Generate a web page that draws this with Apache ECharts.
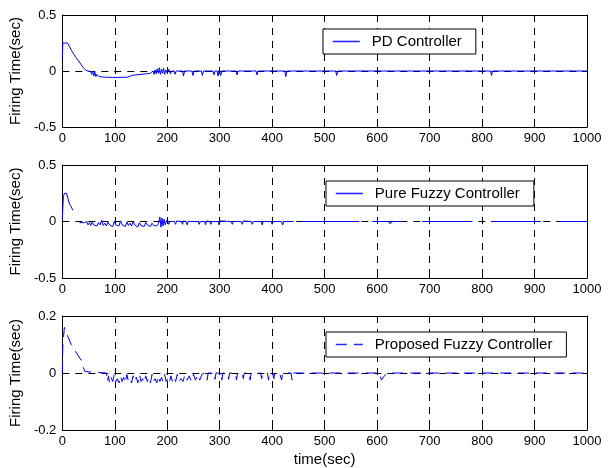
<!DOCTYPE html>
<html>
<head>
<meta charset="utf-8">
<script src="https://cdn.jsdelivr.net/npm/echarts@6/dist/echarts.min.js"></script>
<style>
  body { margin: 0; background: #fff; }
  #chart { width: 608px; height: 468px; }
</style>
</head>
<body>
<div id="chart"></div>
<script>
// 数据：时间(sec) 与 Firing Time(sec)
const seriesNames = ['PD Controller', 'Pure Fuzzy Controller', 'Proposed Fuzzy Controller'];
const xTicks = [0, 1000, 100];          // min, max, interval
const yRanges = [[-0.5, 0.5, 0.5], [-0.5, 0.5, 0.5], [-0.2, 0.2, 0.2]];

const pdData = [
    [0, 0.11], [1, 0.25], [10, 0.25], [18, 0.18], [26, 0.12], [34, 0.07], [40, 0.03], [45, 0.005],
    [50, 0], [54, -0.005], [56, -0.03], [58, 0], [60, -0.045], [62, -0.01], [64, -0.05], [66, -0.03],
    [70, -0.05], [80, -0.055], [95, -0.057], [110, -0.057], [125, -0.055], [132, -0.04], [140, -0.035],
    [150, -0.03], [160, -0.025], [168, -0.02], [171, -0.035], [173, 0], [175, -0.03], [177, 0.01],
    [179, -0.025], [181, 0.02], [183, -0.02], [185, 0.03], [187, -0.03], [189, 0.015], [191, -0.02],
    [193, 0.025], [195, -0.03], [197, 0.01], [200, -0.02], [203, 0.015], [206, -0.025], [209, 0],
    [213, 0], [215, -0.03], [217, 0], [229, 0], [231, -0.045], [233, 0], [247, 0], [249, -0.04],
    [251, 0], [265, 0], [267, -0.04], [269, 0], [287, 0], [289, -0.035], [291, 0], [295, 0],
    [297, -0.045], [299, 0.01], [302, -0.04], [304, 0], [331, 0], [333, -0.035], [335, 0],
    [369, 0], [371, -0.035], [373, 0], [424, 0], [426, -0.05], [428, 0], [521, 0], [523, -0.04],
    [525, 0], [816, 0], [818, -0.04], [820, 0], [1000, 0]
];

// '-' 表示曲线断开
const pureFuzzyData = [
    [0, 0.02], [2, 0.22], [4, 0.25], [8, 0.25], [11, 0.2], [14, 0.15], [17, 0.13], [20, 0.1], [21, '-'],
    [33, -0.01], [42, -0.01], [45, -0.025], [47, 0], [49, -0.03], [52, -0.01], [54, -0.035], [57, -0.005],
    [60, -0.03], [63, -0.015], [66, -0.04], [69, -0.01], [72, -0.03], [75, 0.01], [78, -0.035],
    [81, -0.015], [84, -0.04], [87, -0.005], [90, -0.03], [93, -0.02], [96, -0.045], [99, 0],
    [102, -0.03], [105, -0.015], [108, -0.04], [111, 0.005], [114, -0.03], [117, -0.02], [120, -0.045],
    [123, -0.005], [126, -0.035], [129, -0.015], [132, -0.04], [135, 0], [138, -0.03], [141, -0.02],
    [144, -0.05], [147, -0.01], [150, -0.035], [153, -0.02], [156, -0.045], [159, -0.01], [162, -0.03],
    [165, -0.02], [168, -0.045], [171, -0.015], [174, -0.035], [177, -0.02], [180, -0.04], [183, -0.02],
    [186, 0.04], [188, -0.05], [190, 0.03], [192, -0.04], [194, 0.02], [196, -0.03], [199, 0.01],
    [201, 0], [203, -0.025], [205, 0], [214, 0], [216, -0.025], [218, 0.005], [227, 0], [229, -0.025],
    [231, 0.005], [236, 0], [238, -0.03], [240, 0], [259, 0], [261, -0.025], [263, 0], [271, 0],
    [273, -0.03], [275, 0.005], [281, 0], [283, -0.025], [285, 0], [297, 0], [299, -0.03], [301, 0.005],
    [322, 0], [324, -0.025], [326, 0], [341, 0], [343, -0.025], [345, 0.005], [360, 0], [362, -0.025],
    [364, 0], [379, 0], [381, -0.03], [383, 0], [398, 0], [400, -0.025], [402, 0], [418, 0],
    [420, -0.03], [422, 0], [441, 0], [442, '-'], [456, 0], [566, 0], [567, '-'], [591, 0], [622, 0],
    [624, -0.02], [627, -0.015], [630, 0], [648, 0], [649, '-'], [686, 0], [781, 0], [782, '-'],
    [817, 0], [912, 0], [913, '-'], [947, 0], [1000, 0]
];

const proposedData = [
    [0, 0], [1, 0.1], [4, 0.16], [8, 0.14], [17, 0.1], [27, 0.07], [36, 0.045], [40, 0.02], [43, 0.005],
    [46, 0], [84, 0], [86, -0.03], [88, -0.01], [90, -0.035], [93, -0.015], [96, -0.03], [99, -0.005],
    [102, -0.03], [105, -0.02], [108, -0.035], [111, -0.01], [114, -0.03], [117, -0.015], [120, -0.035],
    [123, -0.005], [126, -0.03], [129, -0.02], [132, -0.035], [135, -0.01], [138, -0.03], [141, -0.015],
    [144, -0.035], [147, -0.005], [150, -0.03], [153, -0.02], [156, -0.035], [159, -0.01], [162, -0.03],
    [165, -0.015], [168, -0.035], [171, -0.005], [174, -0.03], [177, -0.02], [180, -0.035], [183, -0.01],
    [186, -0.03], [189, -0.015], [192, -0.03], [195, -0.005], [198, -0.03], [201, -0.02], [204, -0.035],
    [207, -0.01], [210, -0.03], [213, -0.015], [216, -0.03], [219, -0.005], [222, -0.03], [226, -0.02],
    [230, -0.03], [234, -0.005], [238, -0.025], [242, -0.01], [246, -0.03], [250, -0.005], [254, -0.025],
    [258, -0.005], [262, -0.025], [266, -0.005], [270, 0], [274, -0.005], [276, -0.025], [278, 0],
    [289, 0], [291, -0.022], [293, 0], [302, 0], [304, -0.025], [306, 0], [315, 0], [317, -0.022],
    [319, 0], [330, 0], [332, -0.025], [334, 0], [343, 0], [345, -0.02], [347, 0], [356, 0],
    [358, -0.025], [360, 0], [378, 0], [380, -0.02], [382, 0], [391, 0], [393, -0.025], [395, 0],
    [401, 0], [403, -0.02], [405, 0], [414, 0], [416, -0.005], [418, -0.025], [420, 0], [436, 0],
    [438, -0.025], [440, 0], [605, 0], [608, -0.025], [611, -0.03], [614, -0.01], [618, 0], [1000, 0]
];

const allData = [pdData, pureFuzzyData, proposedData];

const FONT = '"Liberation Sans", Arial, sans-serif';
const gridTops = [15, 165, 316];
const gridHeights = [112, 113, 114];
const legendPos = [[323, 29], [326, 181], [326, 332]];
const lineTypes = ['solid', 'solid', [11, 7]];

function initChart() {
    const chart = echarts.init(document.getElementById('chart'));

    const grid = [], xAxis = [], yAxis = [], series = [], legend = [];

    for (let i = 0; i < 3; i++) {
        grid.push({left: 61, width: 526, top: gridTops[i], height: gridHeights[i]});

        const tickStyle = {show: true, inside: true, length: 5, lineStyle: {color: '#000', width: 1}};
        const lineAxis = {show: true, onZero: false, lineStyle: {color: '#000', width: 1}};

        // 下方 x 轴（含刻度标签和网格线）
        xAxis.push({
            type: 'value', gridIndex: i, position: 'bottom',
            min: xTicks[0], max: xTicks[1], interval: xTicks[2],
            axisLine: lineAxis, axisTick: tickStyle,
            axisLabel: {color: '#000', fontSize: 13, fontFamily: FONT, margin: 5,
                        formatter: function(v) { return String(v); }},
            splitLine: {show: true, lineStyle: {color: '#000', type: [7, 6], width: 1}},
            name: i === 2 ? 'time(sec)' : '',
            nameLocation: 'middle', nameGap: 22,
            nameTextStyle: {color: '#000', fontSize: 15, fontFamily: FONT}
        });
        // 上方 x 轴（只显示刻度）
        xAxis.push({
            type: 'value', gridIndex: i, position: 'top',
            min: xTicks[0], max: xTicks[1], interval: xTicks[2],
            axisLine: lineAxis, axisTick: tickStyle,
            axisLabel: {show: false}, splitLine: {show: false}
        });

        const r = yRanges[i];
        yAxis.push({
            type: 'value', gridIndex: i, position: 'left',
            min: r[0], max: r[1], interval: r[2],
            axisLine: lineAxis, axisTick: tickStyle,
            axisLabel: {color: '#000', fontSize: 13, fontFamily: FONT, margin: 6},
            splitLine: {show: true, lineStyle: {color: '#000', type: [7, 6], width: 1}},
            name: 'Firing Time(sec)', nameLocation: 'middle', nameGap: 36,
            nameTextStyle: {color: '#000', fontSize: 15, fontFamily: FONT}
        });
        yAxis.push({
            type: 'value', gridIndex: i, position: 'right',
            min: r[0], max: r[1], interval: r[2],
            axisLine: lineAxis, axisTick: tickStyle,
            axisLabel: {show: false}, splitLine: {show: false}
        });

        series.push({
            name: seriesNames[i],
            type: 'line',
            xAxisIndex: 2 * i,
            yAxisIndex: 2 * i,
            data: allData[i],
            symbol: 'none',
            showSymbol: false,
            connectNulls: false,
            lineStyle: {color: '#0000ff', width: 1, type: lineTypes[i]},
            itemStyle: {color: '#0000ff'},
            z: 3
        });

        legend.push({
            data: [seriesNames[i]],
            left: legendPos[i][0],
            top: legendPos[i][1],
            backgroundColor: '#fff',
            borderColor: '#000',
            borderWidth: 1,
            borderRadius: 0,
            padding: [5, 14, 5, 9],
            itemWidth: 27,
            itemHeight: 14,
            selectedMode: false,
            itemStyle: {color: 'rgba(0,0,0,0)', borderWidth: 0, opacity: 0},
            lineStyle: {color: '#2a2aff', width: 1.6, type: lineTypes[i]},
            textStyle: {color: '#000', fontSize: 15, fontFamily: FONT, padding: [0, 0, 0, 7]}
        });
    }

    chart.setOption({
        animation: false,
        backgroundColor: '#fff',
        grid: grid,
        xAxis: xAxis,
        yAxis: yAxis,
        legend: legend,
        series: series
    });
}

initChart();
</script>
</body>
</html>
